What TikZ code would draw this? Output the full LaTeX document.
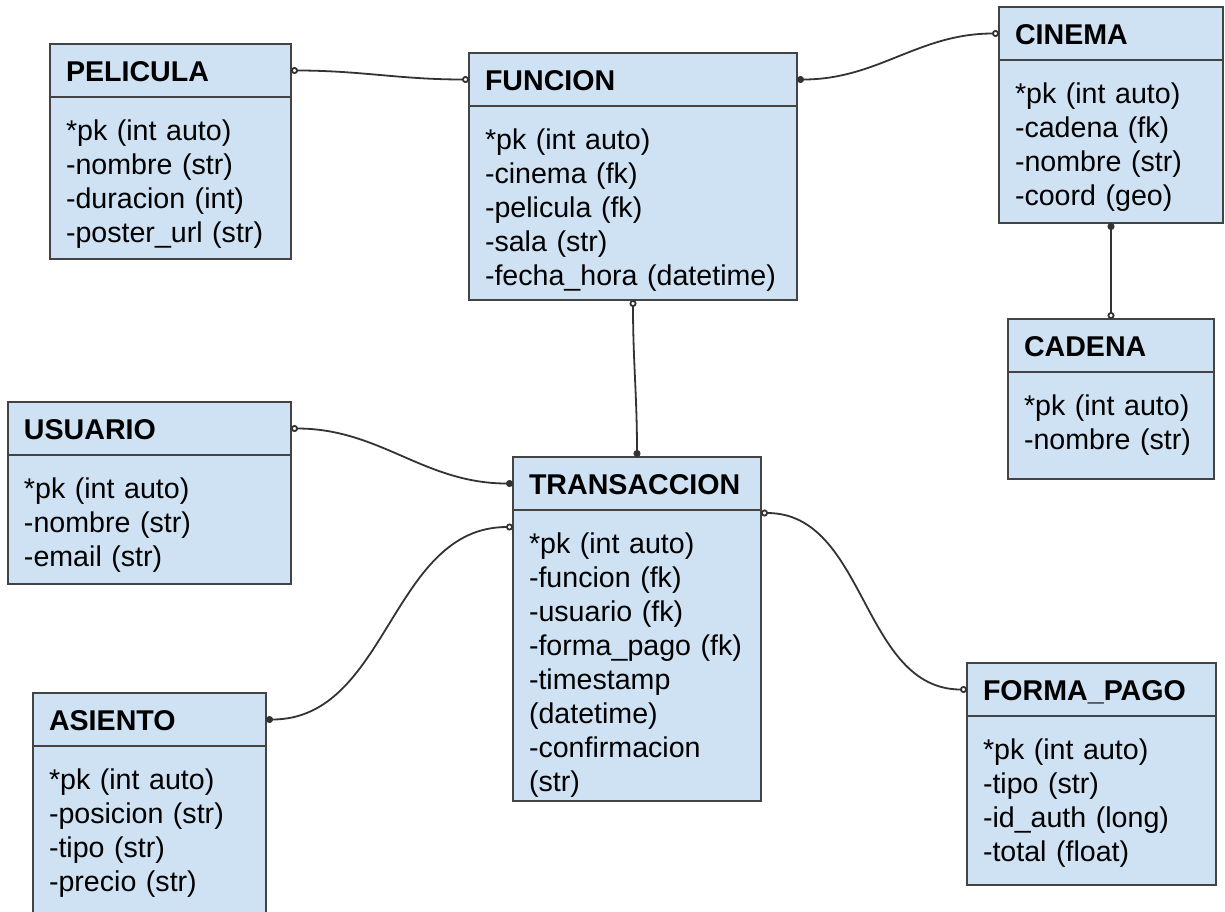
\documentclass[tikz,border=0pt]{standalone}
\usepackage{fontspec}
\setmainfont{Liberation Sans}
\usepackage{xcolor}
\usepackage{tikz}
\usetikzlibrary{positioning,arrows.meta}
\definecolor{cazul}{HTML}{CFE2F3}
\definecolor{cborde}{HTML}{434343}
\definecolor{clinea}{HTML}{333333}
\tikzset{
  cabecera/.style={rectangle, draw=cborde, fill=cazul, line width=1pt, anchor=north west,
    outer sep=0pt, inner xsep=8pt, inner ysep=0pt, text width=#1, align=left,
    text height=18.5pt, text depth=8pt, font=\bfseries\fontsize{14.3}{17}\selectfont},
  cuerpo/.style={rectangle, draw=cborde, fill=cazul, line width=1pt,
    outer sep=0pt, inner xsep=8pt, inner ysep=0pt, text width=#1, align=left,
    text height=21.5pt, font=\fontsize{14.3}{17}\selectfont},
  flecha/.style={line width=0.9pt, draw=clinea},
  rel-aa/.style={flecha, {Circle[open,length=3.5pt]}-{Circle[open,length=3.5pt]}},
  rel-al/.style={flecha, {Circle[open,length=3.5pt]}-{Circle[length=3.5pt]}},
  rel-la/.style={flecha, {Circle[length=3.5pt]}-{Circle[open,length=3.5pt]}},
}

\begin{document}
\begin{tikzpicture}[x=0.5pt, y=-0.5pt]
  \useasboundingbox (0,0) rectangle (1225,911);
  % entidades
  \node[cabecera=104.5pt] (pel-cab) at (50,44) {PELICULA};
  \node[cuerpo=104.5pt, text depth=59.5pt, below=0pt of pel-cab] (pel)
    {*pk (int auto)\\-nombre (str)\\-duracion (int)\\-poster\_url (str)};
  \node[cabecera=148pt] (fun-cab) at (469,53) {FUNCION};
  \node[cuerpo=148pt, text depth=75.5pt, below=0pt of fun-cab] (fun)
    {*pk (int auto)\\-cinema (fk)\\-pelicula (fk)\\-sala (str)\\-fecha\_hora (datetime)};
  \node[cabecera=96pt] (cin-cab) at (999,7) {CINEMA};
  \node[cuerpo=96pt, text depth=60pt, below=0pt of cin-cab] (cin)
    {*pk (int auto)\\-cadena (fk)\\-nombre (str)\\-coord (geo)};
  \node[cabecera=87pt] (cad-cab) at (1008,319) {CADENA};
  \node[cuerpo=87pt, text depth=32pt, below=0pt of cad-cab] (cad)
    {*pk (int auto)\\-nombre (str)};
  \node[cabecera=125.5pt] (usu-cab) at (8,402) {USUARIO};
  \node[cuerpo=125.5pt, text depth=43pt, below=0pt of usu-cab] (usu)
    {*pk (int auto)\\-nombre (str)\\-email (str)};
  \node[cabecera=108pt] (tra-cab) at (513,457) {TRANSACCION};
  \node[cuerpo=108pt, text depth=124pt, below=0pt of tra-cab] (tra)
    {*pk (int auto)\\-funcion (fk)\\-usuario (fk)\\-forma\_pago (fk)\\-timestamp\\(datetime)\\-confirmacion\\(str)};
  \node[cabecera=100.5pt] (asi-cab) at (33,693) {ASIENTO};
  \node[cuerpo=100.5pt, text depth=120pt, below=0pt of asi-cab] (asi)
    {*pk (int auto)\\-posicion (str)\\-tipo (str)\\-precio (str)};
  \node[cabecera=108.5pt] (fp-cab) at (967,663) {FORMA\_PAGO};
  \node[cuerpo=108.5pt, text depth=63pt, below=0pt of fp-cab] (fp)
    {*pk (int auto)\\-tipo (str)\\-id\_auth (long)\\-total (float)};
  % relaciones
  \draw[rel-aa] (pel-cab.east) to[out=0, in=180] (fun-cab.west);
  \draw[rel-la] (fun-cab.east) to[out=0, in=180] (cin-cab.west);
  \draw[rel-la] (cin.south) -- (cad-cab.north);
  \draw[rel-al] (fun.south) to[out=-90, in=90] (tra-cab.north);
  \draw[rel-al] (usu-cab.east) to[out=0, in=180] (tra-cab.west);
  \draw[rel-al] ([yshift=-8.5pt]tra.north west) to[out=180, in=0] (asi-cab.east);
  \draw[rel-aa] ([yshift=-1.5pt]tra.north east) to[out=0, in=180] (fp-cab.west);
\end{tikzpicture}
\end{document}
